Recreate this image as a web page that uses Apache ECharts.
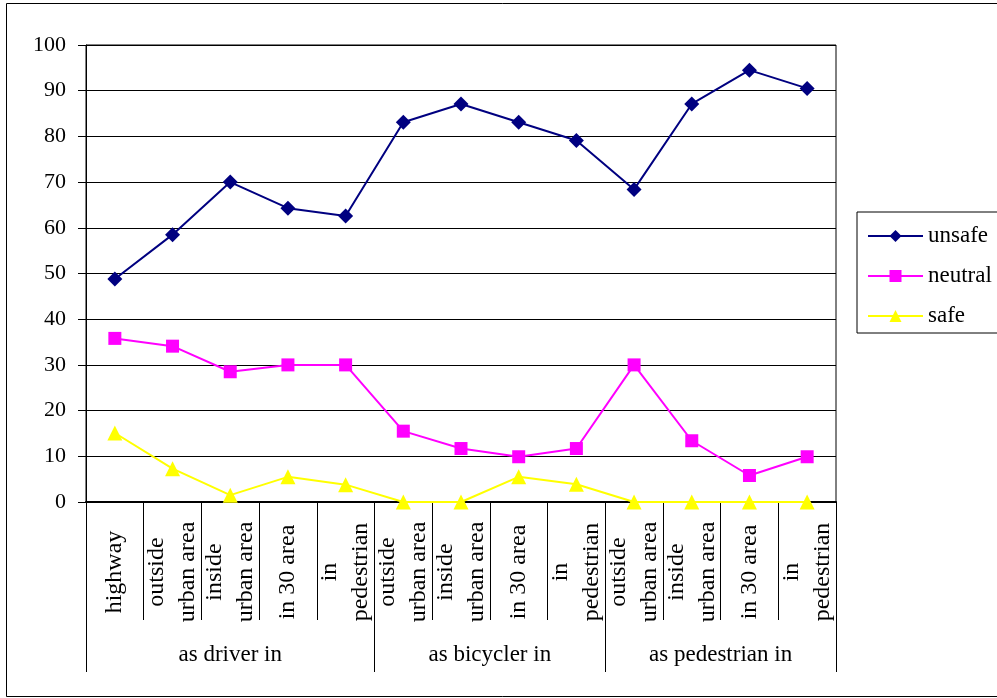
<!DOCTYPE html>
<html><head><meta charset="utf-8">
<script src="https://cdn.jsdelivr.net/npm/echarts@6/dist/echarts.min.js"></script>
<style>html,body{margin:0;padding:0;background:#fff}#c{width:997px;height:698px}</style>
</head><body><div id="c"></div>
<script>
const categories = ['highway','outside\nurban area','inside\nurban area','in 30 area','in\npedestrian',
  'outside\nurban area','inside\nurban area','in 30 area','in\npedestrian',
  'outside\nurban area','inside\nurban area','in 30 area','in\npedestrian'];
const groups = ['as driver in','as bicycler in','as pedestrian in'];
const groupSizes = [5,4,4];
const seriesNames = ['unsafe','neutral','safe'];
const unsafe = [48.8,58.5,70,64.3,62.6,83.1,87.1,83.1,79.1,68.4,87.1,94.5,90.5];
const neutral = [35.8,34.1,28.5,30,30,15.5,11.7,9.9,11.7,30,13.4,5.8,9.9];
const safe = [15.1,7.3,1.5,5.5,3.8,0,0,5.5,3.9,0,0,0,0];

const FONT = "'Liberation Serif','Times New Roman',serif";
const boundaries = [0];
groupSizes.forEach(s => boundaries.push(boundaries[boundaries.length-1] + s));
const centers = groupSizes.map((s,i) => boundaries[i] + s/2);

const chart = echarts.init(document.getElementById('c'), null, {renderer:'canvas'});
chart.setOption({
  animation:false,
  backgroundColor:'#fff',
  textStyle:{fontFamily:FONT, color:'#000'},
  graphic:[{type:'rect', shape:{x:6.5,y:3.5,width:1000,height:693}, style:{fill:'none',stroke:'#000',lineWidth:1}, silent:true, z:-1}],
  grid:{left:86, top:45, width:750, height:457, show:true, borderColor:'#000', borderWidth:1, containLabel:false},
  legend:{
    orient:'vertical', left:857, top:212,
    data:seriesNames,
    borderColor:'#000', borderWidth:1, padding:[12,6,5,10],
    itemWidth:55, itemHeight:15, itemGap:16,
    textStyle:{fontFamily:FONT, fontSize:23, color:'#000', lineHeight:24}
  },
  xAxis:[{
    type:'category', data:categories, boundaryGap:true, position:'bottom',
    axisLine:{show:true, lineStyle:{color:'#000', width:2}},
    axisTick:{show:true, interval:0, length:118, lineStyle:{color:'#000', width:1}},
    axisLabel:{interval:0, rotate:90, align:'center', verticalAlign:'middle', margin:70,
      fontFamily:FONT, fontSize:24, color:'#000', lineHeight:31},
    splitLine:{show:false}
  },{
    type:'value', min:0, max:boundaries[boundaries.length-1], position:'bottom', offset:0,
    axisLine:{show:false},
    axisTick:{show:true, customValues:boundaries, length:170, lineStyle:{color:'#000', width:1}},
    axisLabel:{show:true, customValues:centers, margin:153, verticalAlign:'middle',
      formatter:(v)=>{const i=centers.findIndex(c=>Math.abs(c-v)<1e-6); return i>=0?groups[i]:'';},
      fontFamily:FONT, fontSize:23, color:'#000'},
    splitLine:{show:false}
  }],
  yAxis:{
    type:'value', min:0, max:100, interval:10,
    axisLine:{show:true, lineStyle:{color:'#000', width:1}},
    axisTick:{show:true, length:8, lineStyle:{color:'#000'}},
    axisLabel:{margin:20, fontFamily:FONT, fontSize:22, color:'#000'},
    splitLine:{show:true, lineStyle:{color:'#000', width:1}}
  },
  series:[
    {name:'unsafe', type:'line', data:unsafe, xAxisIndex:0, symbol:'diamond', symbolSize:15,
      itemStyle:{color:'#000080'}, lineStyle:{color:'#000080', width:2}},
    {name:'neutral', type:'line', data:neutral, xAxisIndex:0, symbol:'rect', symbolSize:13,
      itemStyle:{color:'#FF00FF'}, lineStyle:{color:'#FF00FF', width:2}},
    {name:'safe', type:'line', data:safe, xAxisIndex:0, symbol:'triangle', symbolSize:15,
      itemStyle:{color:'#FFFF00'}, lineStyle:{color:'#FFFF00', width:2}}
  ]
});
</script></body></html>
